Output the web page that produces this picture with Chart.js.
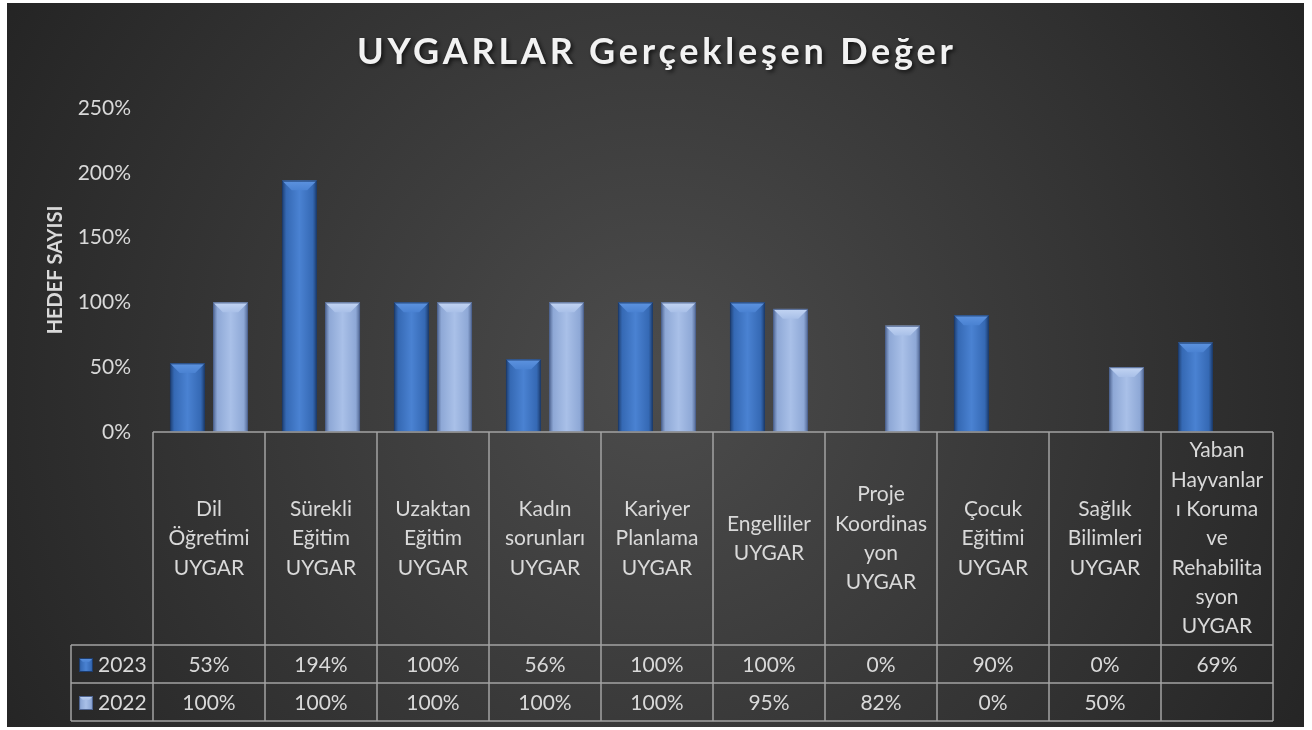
<!DOCTYPE html>
<html>
<head>
<meta charset="utf-8">
<script src="https://cdn.jsdelivr.net/npm/chart.js@4"></script>
<style>
  html, body { margin: 0; padding: 0; background: #fff; }
  #wrap { width: 1312px; height: 730px; position: relative; }
</style>
</head>
<body>
<div id="wrap"><canvas id="chart"></canvas></div>
<script>
const chartTitle = "UYGARLAR Gerçekleşen Değer";
const yAxisTitle = "HEDEF SAYISI";
const categories = [
  ["Dil", "Öğretimi", "UYGAR"],
  ["Sürekli", "Eğitim", "UYGAR"],
  ["Uzaktan", "Eğitim", "UYGAR"],
  ["Kadın", "sorunları", "UYGAR"],
  ["Kariyer", "Planlama", "UYGAR"],
  ["Engelliler", "UYGAR"],
  ["Proje", "Koordinas", "yon", "UYGAR"],
  ["Çocuk", "Eğitimi", "UYGAR"],
  ["Sağlık", "Bilimleri", "UYGAR"],
  ["Yaban", "Hayvanlar", "ı Koruma", "ve", "Rehabilita", "syon", "UYGAR"],
];
const seriesNames = ["2023", "2022"];
const values2023 = [53, 194, 100, 56, 100, 100, 0, 90, 0, 69];
const values2022 = [100, 100, 100, 100, 100, 95, 82, 0, 50, null];
const yMax = 250;
const yStep = 50;

const FONT = "Lato, 'Open Sans', sans-serif";
const TEXT = "#d9d9d9";
const LINE = "#a3a3a3";

const palettes = [
  { base: "#3569b4", edge: "#1d3d6e", light: "#5d93df", top: "#4a82d2" },
  { base: "#8ea8d6", edge: "#4f6591", light: "#c3d5f3", top: "#a9c0e8" },
];

function bevelBox(ctx, left, top, w, h, pal) {
  if (h <= 0.5 || w <= 0) return;
  ctx.save();
  const g = ctx.createLinearGradient(left, 0, left + w, 0);
  g.addColorStop(0, pal.edge);
  g.addColorStop(0.12, pal.base);
  g.addColorStop(0.5, pal.top);
  g.addColorStop(0.88, pal.base);
  g.addColorStop(1, pal.edge);
  ctx.fillStyle = g;
  ctx.fillRect(left, top, w, h);
  const b = Math.min(w * 0.28, h / 2, 10);
  const tg = ctx.createLinearGradient(0, top, 0, top + b);
  tg.addColorStop(0, pal.light);
  tg.addColorStop(1, pal.top);
  ctx.fillStyle = tg;
  ctx.beginPath();
  ctx.moveTo(left, top);
  ctx.lineTo(left + w, top);
  ctx.lineTo(left + w - b, top + b);
  ctx.lineTo(left + b, top + b);
  ctx.closePath();
  ctx.fill();
  ctx.strokeStyle = pal.edge;
  ctx.lineWidth = 1;
  ctx.strokeRect(left + 0.5, top + 0.5, w - 1, h - 1);
  ctx.restore();
}

const decorPlugin = {
  id: "decor",
  beforeDraw(chart) {
    const ctx = chart.ctx;
    const W = chart.width, H = chart.height;
    ctx.save();
    ctx.fillStyle = "#ffffff";
    ctx.fillRect(0, 0, W, H);
    const rg = ctx.createRadialGradient(656, 380, 20, 656, 380, 760);
    rg.addColorStop(0, "#4b4b4b");
    rg.addColorStop(1, "#242424");
    ctx.fillStyle = rg;
    ctx.fillRect(7, 3, 1297, 724);

    ctx.font = "bold 36px " + FONT;
    ctx.letterSpacing = "0px";
    const n = chartTitle.length;
    const w0 = ctx.measureText(chartTitle).width;
    const sp = Math.max(0, (596 - w0) / (n - 1));
    ctx.letterSpacing = sp + "px";
    ctx.fillStyle = "#f2f2f2";
    ctx.textAlign = "left";
    ctx.textBaseline = "alphabetic";
    ctx.shadowColor = "rgba(0,0,0,0.7)";
    ctx.shadowBlur = 4;
    ctx.shadowOffsetX = 2;
    ctx.shadowOffsetY = 2;
    ctx.fillText(chartTitle, 357, 64);
    ctx.restore();
  },
  afterDatasetsDraw(chart) {
    const ctx = chart.ctx;
    chart.data.datasets.forEach((ds, i) => {
      const meta = chart.getDatasetMeta(i);
      meta.data.forEach((bar, j) => {
        if (ds.data[j] == null) return;
        const p = bar.getProps(["x", "y", "base", "width"], true);
        bevelBox(ctx, p.x - p.width / 2, p.y, p.width, p.base - p.y, palettes[i]);
      });
    });
  },
  afterDraw(chart) {
    const ctx = chart.ctx;
    const xs = chart.scales.x;
    const area = chart.chartArea;
    const cw = (xs.right - xs.left) / categories.length;
    const top = area.bottom;
    const headBottom = 645;
    const rowH = 38;
    const tableBottom = headBottom + rowH * 2;
    const legendLeft = 71;

    ctx.save();
    ctx.strokeStyle = LINE;
    ctx.lineWidth = 1.5;
    ctx.beginPath();
    ctx.moveTo(xs.left, top);
    ctx.lineTo(xs.right, top);
    for (let r = 0; r <= 2; r++) {
      ctx.moveTo(legendLeft, headBottom + r * rowH);
      ctx.lineTo(xs.right, headBottom + r * rowH);
    }
    for (let i = 0; i <= categories.length; i++) {
      const x = xs.left + i * cw;
      ctx.moveTo(x, top);
      ctx.lineTo(x, tableBottom);
    }
    ctx.moveTo(legendLeft, headBottom);
    ctx.lineTo(legendLeft, tableBottom);
    ctx.stroke();

    ctx.font = "21px " + FONT;
    ctx.textBaseline = "middle";
    const lh = 29.3;
    const mid = (top + headBottom) / 2;
    ctx.fillStyle = TEXT;
    ctx.textAlign = "center";
    categories.forEach((lines, i) => {
      const cx = xs.getPixelForValue(i);
      const y0 = mid - ((lines.length - 1) * lh) / 2;
      lines.forEach((t, k) => ctx.fillText(t, cx, y0 + k * lh));
    });

    [values2023, values2022].forEach((vals, r) => {
      const cy = headBottom + r * rowH + rowH / 2 + 1;
      bevelBox(ctx, 79, cy - 7, 14, 14, palettes[r]);
      ctx.fillStyle = TEXT;
      ctx.textAlign = "center";
      vals.forEach((v, i) => {
        if (v == null) return;
        ctx.fillText(v + "%", xs.getPixelForValue(i), cy);
      });
      ctx.textAlign = "left";
      ctx.fillText(seriesNames[r], 98, cy);
    });
    ctx.restore();
  },
};

new Chart(document.getElementById("chart"), {
  type: "bar",
  data: {
    labels: categories,
    datasets: [
      {
        label: seriesNames[0],
        data: values2023,
        backgroundColor: "rgba(0,0,0,0)",
        categoryPercentage: 0.77,
        barPercentage: 0.81,
      },
      {
        label: seriesNames[1],
        data: values2022,
        backgroundColor: "rgba(0,0,0,0)",
        categoryPercentage: 0.77,
        barPercentage: 0.81,
      },
    ],
  },
  options: {
    responsive: true,
    maintainAspectRatio: false,
    animation: false,
    layout: { padding: { top: 108, left: 0, right: 39, bottom: 298 } },
    plugins: {
      legend: { display: false },
      title: { display: false },
      tooltip: { enabled: false },
    },
    scales: {
      x: { display: false },
      y: {
        min: 0,
        max: yMax,
        afterFit: (s) => { s.width = 153; },
        grid: { display: false, drawTicks: false, tickLength: 0 },
        border: { display: false },
        ticks: {
          stepSize: yStep,
          padding: 22,
          color: TEXT,
          font: { family: FONT, size: 21 },
          callback: (v) => v + "%",
        },
        title: {
          display: true,
          text: yAxisTitle,
          color: TEXT,
          font: { family: FONT, size: 20, weight: "bold" },
          padding: { top: 44, bottom: 0 },
        },
      },
    },
  },
  plugins: [decorPlugin],
});
</script>
</body>
</html>
